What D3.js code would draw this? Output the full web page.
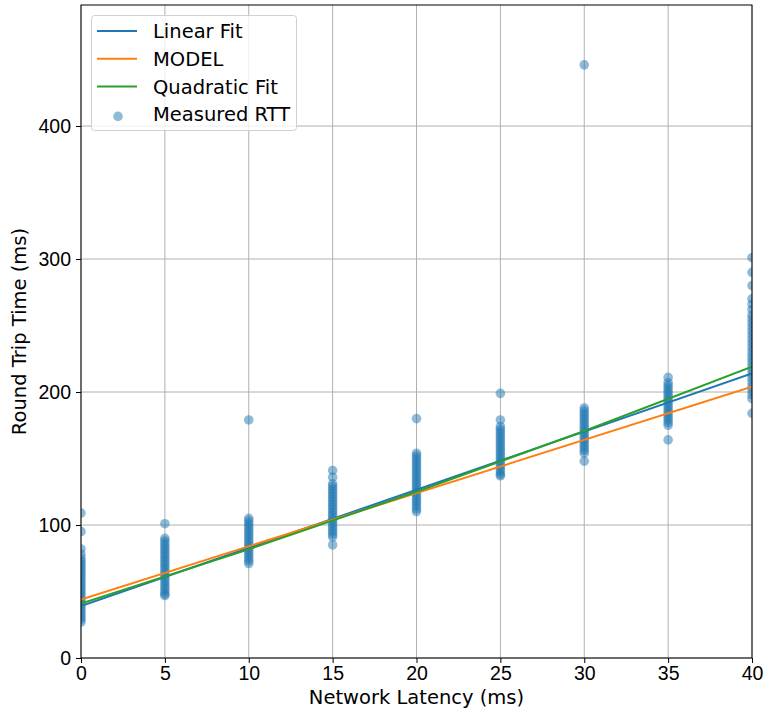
<!DOCTYPE html>
<html>
<head>
<meta charset="utf-8">
<script src="https://cdn.jsdelivr.net/npm/d3@7"></script>
<style>
  html, body { margin: 0; padding: 0; background: #fff; }
  svg { display: block; font-family: "DejaVu Sans", sans-serif; }
</style>
</head>
<body>
<div id="chart"></div>
<script>
// latency levels (ms) and measured RTT values at each level
const latencies = [0, 5, 10, 15, 20, 25, 30, 35, 40];
const rtt0  = [109, 95, 82, 78, 75, 73, 71, 69, 67, 65, 63, 61, 59, 57, 55, 53, 51, 49, 47, 45, 43, 41, 39, 37, 35, 33, 31, 29, 27];
const rtt5  = [101, 90, 88, 86, 84, 82, 80, 78, 76, 74, 72, 70, 68, 66, 64, 62, 60, 58, 56, 54, 52, 50, 48, 47];
const rtt10 = [179, 105, 103, 101, 99, 97, 95, 93, 91, 89, 87, 85, 83, 81, 79, 77, 75, 73, 71];
const rtt15 = [141, 136, 131, 129, 127, 125, 123, 121, 119, 117, 115, 113, 111, 109, 107, 105, 103, 101, 99, 97, 95, 93, 91, 85];
const rtt20 = [180, 154, 152, 150, 148, 146, 144, 142, 140, 138, 136, 134, 132, 130, 128, 126, 124, 122, 120, 118, 116, 114, 112, 110];
const rtt25 = [199, 179, 174, 172, 170, 168, 166, 164, 162, 160, 158, 156, 154, 152, 150, 148, 146, 144, 142, 140, 138, 137];
const rtt30 = [446, 188, 186, 184, 182, 180, 178, 176, 174, 172, 170, 168, 166, 164, 162, 160, 158, 156, 154, 148];
const rtt35 = [211, 207, 205, 203, 201, 199, 197, 195, 193, 191, 189, 187, 185, 183, 181, 179, 177, 175, 164];
const rtt40 = [301, 290, 280, 270, 266, 262, 258, 255, 252, 249, 246, 243, 240, 237, 234, 231, 228, 225, 222, 219, 216, 213, 210, 207, 204, 201, 198, 195, 184];
const rttByLatency = [rtt0, rtt5, rtt10, rtt15, rtt20, rtt25, rtt30, rtt35, rtt40];

// fitted lines
const linearX = [0, 40];
const linearY = [39, 214];
const modelX = [0, 40];
const modelY = [44, 204];
const quadX = [0, 10, 20, 30, 40];
const quadY = [41, 81.7, 125, 170.7, 219];

const xTicks = [0, 5, 10, 15, 20, 25, 30, 35, 40];
const yTicks = [0, 100, 200, 300, 400];

const width = 764, height = 711;
const margin = {left: 81, right: 12, top: 5, bottom: 53};
const fontSize = "19.5px";

const svg = d3.select("#chart").append("svg")
  .attr("width", width)
  .attr("height", height);

const x = d3.scaleLinear().domain([0, 40]).range([margin.left, width - margin.right]);
const y = d3.scaleLinear().domain([0, 491]).range([height - margin.bottom, margin.top]);

// grid
const grid = svg.append("g");
grid.selectAll(".gx").data(xTicks).enter().append("line")
  .attr("x1", d => x(d)).attr("x2", d => x(d))
  .attr("y1", y.range()[0]).attr("y2", y.range()[1])
  .attr("stroke", "#b0b0b0").attr("stroke-width", 1);
grid.selectAll(".gy").data(yTicks).enter().append("line")
  .attr("x1", x.range()[0]).attr("x2", x.range()[1])
  .attr("y1", d => y(d)).attr("y2", d => y(d))
  .attr("stroke", "#b0b0b0").attr("stroke-width", 1);

svg.append("clipPath").attr("id", "plotclip")
  .append("rect")
  .attr("x", x.range()[0]).attr("y", y.range()[1])
  .attr("width", x.range()[1] - x.range()[0])
  .attr("height", y.range()[0] - y.range()[1]);

const plot = svg.append("g").attr("clip-path", "url(#plotclip)");

const points = [];
latencies.forEach((lat, i) => {
  rttByLatency[i].forEach(v => points.push([lat, v]));
});

plot.selectAll("circle").data(points).enter().append("circle")
  .attr("cx", d => x(d[0]))
  .attr("cy", d => y(d[1]))
  .attr("r", 4.8)
  .attr("fill", "#1f77b4")
  .attr("fill-opacity", 0.5);

const line = d3.line().x(d => x(d[0])).y(d => y(d[1]));
const fits = [
  {name: "Linear Fit", xs: linearX, ys: linearY, color: "#1f77b4"},
  {name: "MODEL", xs: modelX, ys: modelY, color: "#ff7f0e"},
  {name: "Quadratic Fit", xs: quadX, ys: quadY, color: "#2ca02c"}
];
fits.forEach(f => {
  plot.append("path")
    .attr("d", line(f.xs.map((v, i) => [v, f.ys[i]])))
    .attr("fill", "none")
    .attr("stroke", f.color)
    .attr("stroke-width", 2);
});

// axes
const xAxis = svg.append("g")
  .attr("transform", `translate(0,${y.range()[0]})`)
  .call(d3.axisBottom(x).tickValues(xTicks).tickSize(5).tickPadding(3).tickFormat(d3.format("d")));
const yAxis = svg.append("g")
  .attr("transform", `translate(${x.range()[0]},0)`)
  .call(d3.axisLeft(y).tickValues(yTicks).tickSize(5).tickPadding(5).tickFormat(d3.format("d")));
[xAxis, yAxis].forEach(a => {
  a.select(".domain").remove();
  a.selectAll("text").style("font-size", fontSize).attr("fill", "#000");
  a.selectAll("line").attr("stroke", "#000");
});

// frame
svg.append("rect")
  .attr("x", x.range()[0]).attr("y", y.range()[1])
  .attr("width", x.range()[1] - x.range()[0])
  .attr("height", y.range()[0] - y.range()[1])
  .attr("fill", "none").attr("stroke", "#000").attr("stroke-width", 1);

svg.append("text")
  .attr("x", (x.range()[0] + x.range()[1]) / 2)
  .attr("y", 704)
  .attr("text-anchor", "middle")
  .style("font-size", fontSize)
  .text("Network Latency (ms)");

svg.append("text")
  .attr("transform", `translate(26,${(y.range()[0] + y.range()[1]) / 2}) rotate(-90)`)
  .attr("text-anchor", "middle")
  .style("font-size", fontSize)
  .text("Round Trip Time (ms)");

// legend
const legend = svg.append("g");
legend.append("rect")
  .attr("x", 91.5).attr("y", 15.5)
  .attr("width", 205).attr("height", 115)
  .attr("rx", 3)
  .attr("fill", "#fff").attr("fill-opacity", 0.8)
  .attr("stroke", "#d0d0d0");
const legendItems = fits.map(f => ({name: f.name, color: f.color, type: "line"}))
  .concat([{name: "Measured RTT", color: "#1f77b4", type: "dot"}]);
const item = legend.selectAll(".legend-item").data(legendItems).enter().append("g")
  .attr("transform", (d, i) => `translate(0,${31 + i * 27.8})`);
item.filter(d => d.type === "line").append("line")
  .attr("x1", 97).attr("x2", 137)
  .attr("stroke", d => d.color).attr("stroke-width", 2);
item.filter(d => d.type === "dot").append("circle")
  .attr("cx", 118).attr("cy", 2).attr("r", 4.8)
  .attr("fill", d => d.color).attr("fill-opacity", 0.5);
item.append("text")
  .attr("x", 153).attr("y", 7)
  .style("font-size", fontSize)
  .text(d => d.name);
</script>
</body>
</html>
